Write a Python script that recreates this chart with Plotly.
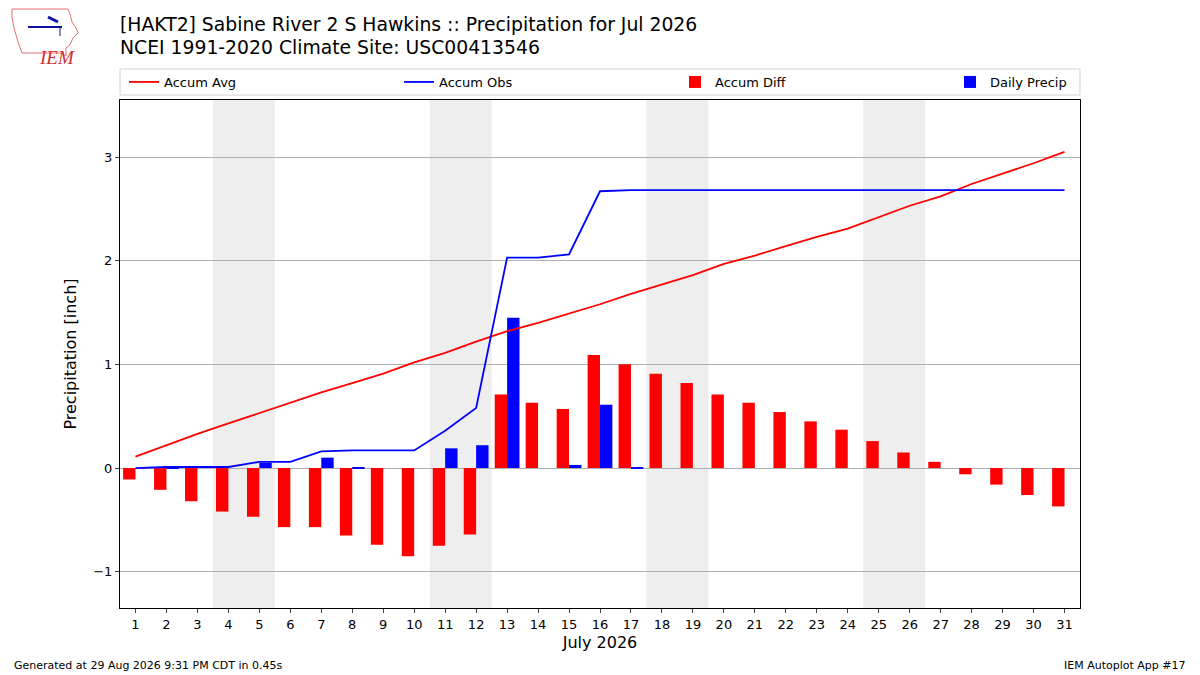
import plotly.graph_objects as go

# values (inches)
days = list(range(1, 32))
accum_avg = [0.11, 0.22, 0.33, 0.43, 0.53, 0.63, 0.73, 0.82, 0.91, 1.02,
             1.11, 1.22, 1.32, 1.40, 1.49, 1.58, 1.68, 1.77, 1.86, 1.97,
             2.05, 2.14, 2.23, 2.31, 2.42, 2.53, 2.62, 2.74, 2.84, 2.94, 3.05]
accum_obs = [0.00, 0.01, 0.01, 0.01, 0.06, 0.06, 0.16, 0.17, 0.17, 0.17,
             0.36, 0.58, 2.03, 2.03, 2.06, 2.67, 2.68, 2.68, 2.68, 2.68,
             2.68, 2.68, 2.68, 2.68, 2.68, 2.68, 2.68, 2.68, 2.68, 2.68, 2.68]
daily_precip = [0.00, 0.01, 0.00, 0.00, 0.05, 0.00, 0.10, 0.01, 0.00, 0.00,
                0.19, 0.22, 1.45, 0.00, 0.03, 0.61, 0.01, 0.00, 0.00, 0.00,
                0.00, 0.00, 0.00, 0.00, 0.00, 0.00, 0.00, 0.00, 0.00, 0.00, 0.00]
accum_diff = [-0.11, -0.21, -0.32, -0.42, -0.47, -0.57, -0.57, -0.65, -0.74, -0.85,
              -0.75, -0.64, 0.71, 0.63, 0.57, 1.09, 1.00, 0.91, 0.82, 0.71,
              0.63, 0.54, 0.45, 0.37, 0.26, 0.15, 0.06, -0.06, -0.16, -0.26, -0.37]
weekends = [(4, 5), (11, 12), (18, 19), (25, 26)]

FONT = "DejaVu Sans"
W, H = 1200, 675
L, R, T, B = 120, 120, 100, 67
PW, PH = W - L - R, H - T - B


def px(x):
    return (x - L) / PW


def py(y):
    return (H - B - y) / PH


fig = go.Figure()

fig.add_trace(go.Scatter(x=days, y=accum_avg, mode="lines", name="Accum Avg",
                         line=dict(color="red", width=1.8), legend="legend2"))
fig.add_trace(go.Scatter(x=days, y=accum_obs, mode="lines", name="Accum Obs",
                         line=dict(color="blue", width=1.8), legend="legend3"))
fig.add_trace(go.Bar(x=days, y=accum_diff, name="Accum Diff", marker_color="red",
                     marker_line_width=0, width=0.4, offset=-0.4, legend="legend4"))
fig.add_trace(go.Bar(x=days, y=daily_precip, name="Daily Precip", marker_color="blue",
                     marker_line_width=0, width=0.4, offset=0, legend="legend5"))

# weekend shading
for d0, d1 in weekends:
    fig.add_shape(type="rect", xref="x", yref="paper", x0=d0 - 0.5, x1=d1 + 0.5,
                  y0=0, y1=1, fillcolor="#eeeeee", line_width=0, layer="below")

# legend frame
fig.add_shape(type="rect", xref="paper", yref="paper", x0=px(120), x1=px(1080),
              y0=py(95), y1=py(69), line=dict(color="#d0d0d0", width=1),
              fillcolor="rgba(255,255,255,0)")

# rough IEM logo: Iowa outline, station glyph and text
iowa = [(12, 9), (68, 9), (70, 14), (72, 22), (76, 28), (78, 33), (73, 38), (70, 45),
        (66, 48), (66, 56), (60, 53), (22, 53), (18, 42), (14, 28), (12, 18)]
path = "M " + " L ".join(f"{px(a):.4f} {py(b):.4f}" for a, b in iowa) + " Z"
fig.add_shape(type="path", xref="paper", yref="paper", path=path,
              line=dict(color="#e07070", width=1))
fig.add_shape(type="line", xref="paper", yref="paper", x0=px(28), x1=px(62),
              y0=py(27), y1=py(27), line=dict(color="#1010a0", width=2))
fig.add_shape(type="line", xref="paper", yref="paper", x0=px(48), x1=px(58),
              y0=py(17), y1=py(22), line=dict(color="#1010a0", width=3))
fig.add_shape(type="line", xref="paper", yref="paper", x0=px(60), x1=px(60),
              y0=py(27), y1=py(36), line=dict(color="#1010a0", width=1))
fig.add_annotation(xref="paper", yref="paper", x=px(37), y=py(45), text="<i>IEM</i>",
                   showarrow=False, font=dict(family="Liberation Serif", size=19, color="#d03030"))

fig.add_annotation(xref="paper", yref="paper", x=px(118), y=py(24), xanchor="left",
                   yanchor="middle", showarrow=False,
                   text="[HAKT2] Sabine River 2 S Hawkins :: Precipitation for Jul 2026",
                   font=dict(family=FONT, size=18.8, color="black"))
fig.add_annotation(xref="paper", yref="paper", x=px(118), y=py(48), xanchor="left",
                   yanchor="middle", showarrow=False,
                   text="NCEI 1991-2020 Climate Site: USC00413546",
                   font=dict(family=FONT, size=18.8, color="black"))

fig.add_annotation(xref="paper", yref="paper", x=px(12), y=py(665), xanchor="left",
                   yanchor="middle", text="Generated at 29 Aug 2026 9:31 PM CDT in 0.45s",
                   showarrow=False, font=dict(family=FONT, size=11, color="black"))
fig.add_annotation(xref="paper", yref="paper", x=px(1188), y=py(665), xanchor="right",
                   yanchor="middle", text="IEM Autoplot App #17", showarrow=False,
                   font=dict(family=FONT, size=11, color="black"))

legend_style = dict(orientation="h", yanchor="middle", xanchor="left", y=py(82),
                    bgcolor="rgba(0,0,0,0)", borderwidth=0,
                    font=dict(family=FONT, size=13, color="black"))

fig.update_layout(
    width=W, height=H,
    margin=dict(l=L, r=R, t=T, b=B, autoexpand=False),
    paper_bgcolor="white", plot_bgcolor="white",
    barmode="overlay",
    showlegend=True,
    font=dict(family=FONT, size=13, color="black"),
    legend2=dict(legend_style, x=px(124)),
    legend3=dict(legend_style, x=px(399)),
    legend4=dict(legend_style, x=px(675)),
    legend5=dict(legend_style, x=px(950)),
    xaxis=dict(range=[0.5, 31.5], tickmode="array", tickvals=days,
               ticks="outside", ticklen=4, showgrid=False, zeroline=False,
               showline=True, linecolor="black", linewidth=1, mirror=True,
               title=dict(text="July 2026", font=dict(size=16), standoff=6)),
    yaxis=dict(range=[-1.35, 3.55], tickvals=[-1, 0, 1, 2, 3],
               ticktext=["\u22121", "0", "1", "2", "3"],
               ticks="outside", ticklen=4, showgrid=True, gridcolor="#b0b0b0",
               zeroline=False, showline=True, linecolor="black", linewidth=1, mirror=True,
               title=dict(text="Precipitation [inch]", font=dict(size=16), standoff=12)),
)

fig.write_html("out.html", config={"displayModeBar": False},
               post_script="document.body.style.margin='0';")
